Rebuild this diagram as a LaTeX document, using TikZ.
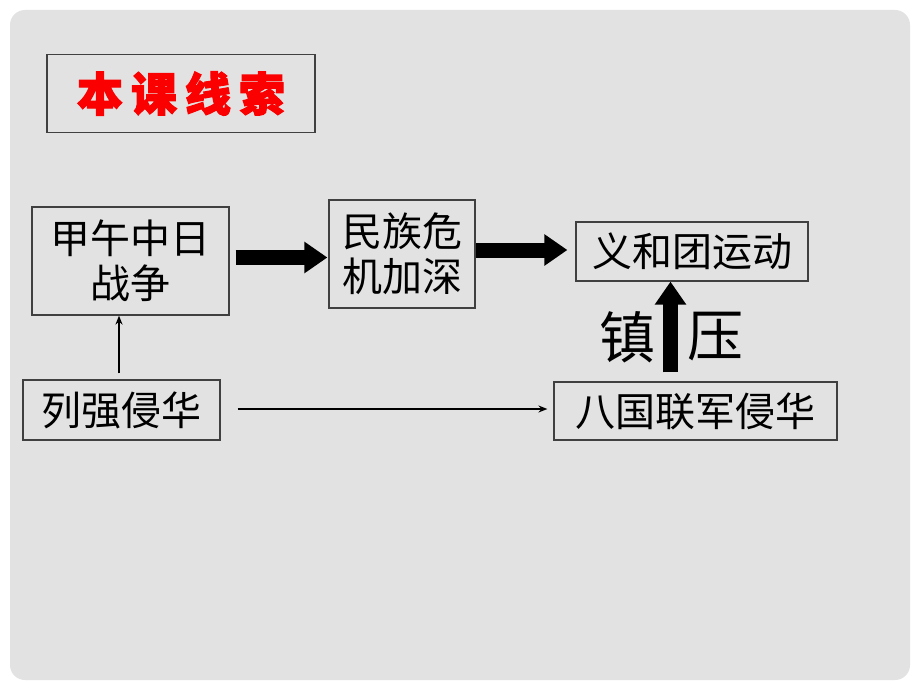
\documentclass[tikz,border=0pt]{standalone}
\usepackage{fontspec}
\newfontfamily\cjk{Noto Sans CJK SC}
\newfontfamily\cjkheavy[FakeBold=2.5]{Noto Sans CJK SC}
\usetikzlibrary{arrows.meta}
\definecolor{slidegray}{RGB}{226,226,226}
\definecolor{titlered}{RGB}{250,0,0}
\def\boxfont{\cjk\fontsize{40}{45}\selectfont}

\begin{document}
\begin{tikzpicture}[x=1pt,y=-1pt,
	box/.style={draw=black!75,line width=1.2pt,inner sep=0pt,align=center,font=\boxfont},
	fatarrow/.style={line width=15pt,-{Triangle[length=23pt,width=30pt]}},
	thinarrow/.style={line width=2pt,-{Stealth[length=9pt,width=7pt]}}]
	\useasboundingbox (0,0) rectangle (920,690);
	\fill[white] (0,0) rectangle (920,690);
	\fill[slidegray,rounded corners=15pt] (10,10) rectangle (910,680);
	
	% title
	\node[box,minimum width=268pt,minimum height=78pt,text=titlered,font=\cjkheavy\bfseries\fontsize{46}{48}\selectfont] (title) at (181,93.5) {本\hspace{8pt}课\hspace{8pt}线\hspace{8pt}索};
	
	% boxes
	\node[box,minimum width=197pt,minimum height=108pt] (jiawu) at (130.5,261) {甲午中日\\战争};
	\node[box,minimum width=146pt,minimum height=108pt] (minzu) at (402,254) {民族危\\机加深};
	\node[box,minimum width=232pt,minimum height=59pt] (yihe) at (692,251.5) {义和团运动};
	\node[box,minimum width=197pt,minimum height=60pt] (liqiang) at (121.5,410) {列强侵华};
	\node[box,minimum width=283pt,minimum height=58pt] (baguo) at (695.5,411) {八国联军侵华};
	
	\node[font=\cjk\fontsize{56}{60}\selectfont] (zhen) at (627,337) {镇};
	\node[font=\cjk\fontsize{56}{60}\selectfont] (ya) at (715,337) {压};
	
	% arrows
	\draw[fatarrow,shorten <=6pt,shorten >=1pt] ([yshift=3.5pt]jiawu.east) -- ([yshift=-3.5pt]minzu.west);
	\draw[fatarrow,shorten >=8pt] ([yshift=4pt]minzu.east) -- ([yshift=1.5pt]yihe.west);
	\draw[fatarrow,shorten <=9pt] ([xshift=-25pt]baguo.north) -- ([xshift=-21.5pt]yihe.south);
	
	\draw[thinarrow,shorten <=6pt] ([xshift=-2.5pt]liqiang.north) -- ([xshift=-11.5pt]jiawu.south);
	\draw[thinarrow,shorten <=17pt,shorten >=6pt] ([yshift=1pt]liqiang.east) -- ([yshift=2pt]baguo.west);
\end{tikzpicture}
\end{document}
